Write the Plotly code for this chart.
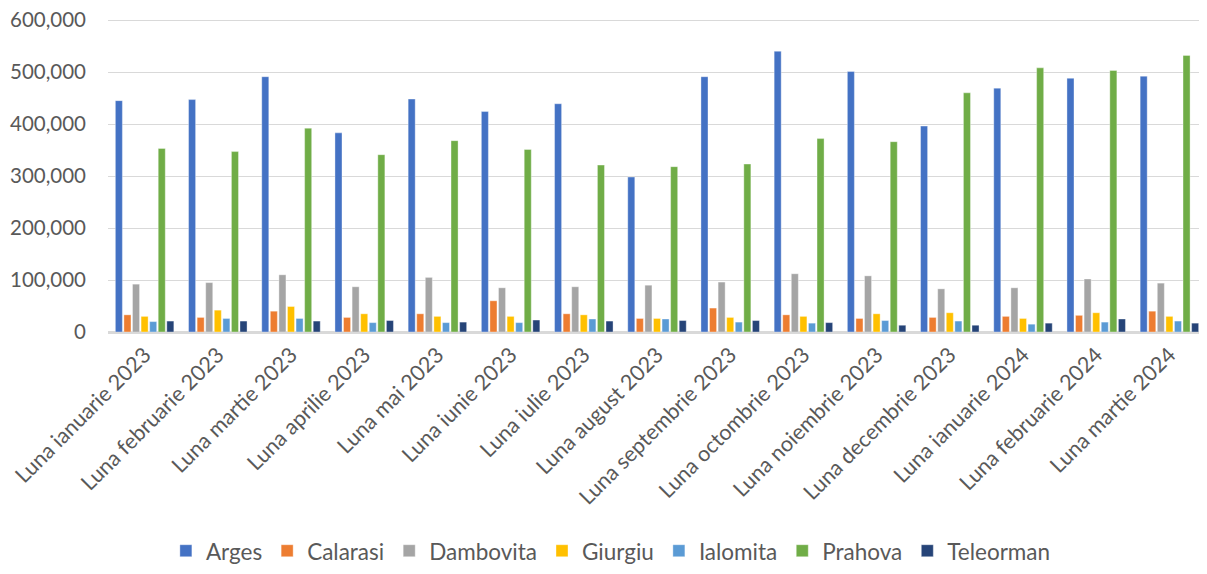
import plotly.graph_objects as go

categories = ["Luna ianuarie 2023", "Luna februarie 2023", "Luna martie 2023", "Luna aprilie 2023",
              "Luna mai 2023", "Luna iunie 2023", "Luna iulie 2023", "Luna august 2023",
              "Luna septembrie 2023", "Luna octombrie 2023", "Luna noiembrie 2023",
              "Luna decembrie 2023", "Luna ianuarie 2024", "Luna februarie 2024", "Luna martie 2024"]

arges = [445000, 447000, 491000, 383000, 448000, 424000, 439000, 298000, 491000, 540000, 501000, 396000, 469000, 488000, 492000]
calarasi = [33000, 28000, 40000, 28000, 35000, 60000, 35000, 26000, 46000, 33000, 26000, 28000, 30000, 32000, 40000]
dambovita = [92000, 95000, 110000, 87000, 105000, 85000, 87000, 90000, 96000, 112000, 108000, 83000, 85000, 102000, 94000]
giurgiu = [30000, 42000, 49000, 35000, 30000, 30000, 33000, 26000, 28000, 30000, 35000, 37000, 26000, 37000, 30000]
ialomita = [20000, 26000, 26000, 18000, 18000, 18000, 25000, 25000, 19000, 17000, 22000, 21000, 15000, 19000, 21000]
prahova = [353000, 347000, 392000, 341000, 368000, 351000, 321000, 318000, 323000, 372000, 366000, 460000, 508000, 503000, 532000]
teleorman = [21000, 21000, 21000, 22000, 19000, 23000, 21000, 22000, 22000, 18000, 13000, 13000, 17000, 25000, 17000]

series = [("Arges", arges, "#4472C4"), ("Calarasi", calarasi, "#ED7D31"),
          ("Dambovita", dambovita, "#A5A5A5"), ("Giurgiu", giurgiu, "#FFC000"),
          ("Ialomita", ialomita, "#5B9BD5"), ("Prahova", prahova, "#70AD47"),
          ("Teleorman", teleorman, "#264478")]

fig = go.Figure()
for name, vals, col in series:
    fig.add_trace(go.Bar(x=categories, y=vals, name=name, marker_color=col,
                         marker_line=dict(color="rgba(255,255,255,0.6)", width=0.6)))

fnt = dict(family="Lato, Carlito, Liberation Sans", size=21.5, color="#595959")
yfnt = dict(family="Lato, Carlito, Liberation Sans", size=20.5, color="#595959")
legfnt = dict(family="Lato, Carlito, Liberation Sans", size=22.5, color="#595959")
# page body has an 8px default margin, so the figure is sized to fit the window
fig.update_layout(
    width=1199, height=566,
    margin=dict(l=100, r=1, t=11, b=236),
    paper_bgcolor="white", plot_bgcolor="white",
    barmode="group", bargap=0.18, bargroupgap=0.18,
    font=fnt,
    xaxis=dict(tickangle=-45, showgrid=False, showline=True, linecolor="#d9d9d9", linewidth=1.5,
               ticks="", tickfont=fnt, automargin=False),
    yaxis=dict(range=[0, 602000], dtick=100000, tickformat=",d", showgrid=True,
               gridcolor="#d9d9d9", gridwidth=1.3, zeroline=True, zerolinecolor="#d9d9d9",
               zerolinewidth=1.5, showline=False, ticks="", tickfont=yfnt, ticklabelstandoff=21,
               automargin=False, ticklabeloverflow="allow"),
    legend=dict(orientation="h", x=0.458, xanchor="center", y=-0.70, yanchor="middle",
                font=legfnt, itemclick=False),
)
fig.write_html("out.html")
